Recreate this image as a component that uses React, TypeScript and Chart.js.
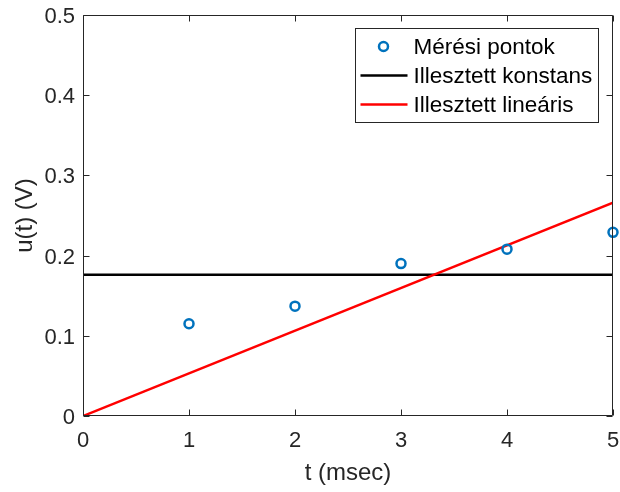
import React, { useEffect, useRef } from "react";
import { Chart, registerables } from "chart.js";

Chart.register(...registerables);

// ---- data ----
const tMeasured = [1, 2, 3, 4, 5];
const uMeasured = [0.115, 0.137, 0.19, 0.208, 0.229];
const constFitT = [0, 5];
const constFitU = [0.176, 0.176];
const linFitT = [0, 5];
const linFitU = [0, 0.266];
const seriesLabels = ["Mérési pontok", "Illesztett konstans", "Illesztett lineáris"];
const xTitle = "t (msec)";
const yTitle = "u(t) (V)";
const xLimits = [0, 5];
const yLimits = [0, 0.5];

const FONT = "'Liberation Sans', Arial, Helvetica, sans-serif";
const AXIS_COLOR = "#262626";
const BLUE = "#0072BD";

const boxPlugin = {
  id: "matlabBox",
  afterDraw(chart: any) {
    const { ctx, chartArea: ca } = chart;
    const xs = chart.scales.x;
    const ys = chart.scales.y;
    ctx.save();
    ctx.strokeStyle = AXIS_COLOR;
    ctx.lineWidth = 1;
    const L = Math.round(ca.left) + 0.5;
    const R = Math.round(ca.right) - 0.5;
    const T = Math.round(ca.top) + 0.5;
    const B = Math.round(ca.bottom) - 0.5;
    ctx.beginPath();
    ctx.rect(L, T, R - L, B - T);
    ctx.stroke();
    const tl = 6;
    ctx.beginPath();
    xs.ticks.forEach((t: any) => {
      const p = Math.round(xs.getPixelForValue(t.value)) + 0.5;
      ctx.moveTo(p, B);
      ctx.lineTo(p, B - tl);
      ctx.moveTo(p, T);
      ctx.lineTo(p, T + tl);
    });
    ys.ticks.forEach((t: any) => {
      const p = Math.round(ys.getPixelForValue(t.value)) + 0.5;
      ctx.moveTo(L, p);
      ctx.lineTo(L + tl, p);
      ctx.moveTo(R, p);
      ctx.lineTo(R - tl, p);
    });
    ctx.stroke();

    // legend
    const bw = 243;
    const bh = 94;
    const bx = Math.round(ca.right) - 15 - bw + 0.5;
    const by = Math.round(ca.top) + 13 + 0.5;
    ctx.fillStyle = "#ffffff";
    ctx.fillRect(bx, by, bw, bh);
    ctx.strokeStyle = AXIS_COLOR;
    ctx.strokeRect(bx, by, bw, bh);
    ctx.font = `22.5px ${FONT}`;
    ctx.textBaseline = "middle";
    ctx.textAlign = "left";
    chart.data.datasets.forEach((ds: any, i: number) => {
      const ry = by + 18 + i * 29;
      if (ds.showLine) {
        ctx.strokeStyle = ds.borderColor;
        ctx.lineWidth = ds.borderWidth;
        ctx.beginPath();
        ctx.moveTo(bx + 5, ry);
        ctx.lineTo(bx + 52, ry);
        ctx.stroke();
      } else {
        ctx.strokeStyle = ds.borderColor;
        ctx.lineWidth = ds.borderWidth;
        ctx.beginPath();
        ctx.arc(bx + 28, ry, ds.pointRadius, 0, Math.PI * 2);
        ctx.stroke();
      }
      ctx.fillStyle = "#000000";
      ctx.fillText(ds.label, bx + 58, ry + 1);
    });
    ctx.restore();
  },
};

export default function App() {
  const ref = useRef<HTMLCanvasElement | null>(null);
  useEffect(() => {
    if (!ref.current) return;
    const chart = new Chart(ref.current, {
      type: "scatter",
      data: {
        datasets: [
          {
            label: seriesLabels[0],
            data: tMeasured.map((t, i) => ({ x: t, y: uMeasured[i] })),
            showLine: false,
            borderColor: BLUE,
            backgroundColor: "rgba(0,0,0,0)",
            borderWidth: 2.5,
            pointRadius: 4.5,
            pointHoverRadius: 4.5,
            clip: false as any,
            order: 0,
          },
          {
            label: seriesLabels[1],
            data: constFitT.map((t, i) => ({ x: t, y: constFitU[i] })),
            showLine: true,
            borderColor: "#000000",
            backgroundColor: "#000000",
            borderWidth: 2.5,
            pointRadius: 0,
            order: 2,
          },
          {
            label: seriesLabels[2],
            data: linFitT.map((t, i) => ({ x: t, y: linFitU[i] })),
            showLine: true,
            borderColor: "#ff0000",
            backgroundColor: "#ff0000",
            borderWidth: 2.5,
            pointRadius: 0,
            order: 1,
          },
        ],
      },
      options: {
        animation: false,
        responsive: false,
        devicePixelRatio: 1,
        layout: { padding: { top: 15, right: 7, left: 0, bottom: 0 } },
        plugins: { legend: { display: false }, tooltip: { enabled: false } },
        events: [],
        scales: {
          x: {
            type: "linear",
            min: xLimits[0],
            max: xLimits[1],
            grid: { drawOnChartArea: false, drawTicks: false },
            border: { display: false },
            ticks: {
              stepSize: 1,
              padding: 12,
              color: AXIS_COLOR,
              font: { family: FONT, size: 22 },
              maxRotation: 0,
              callback: (v: any) => String(v),
            },
            title: {
              display: true,
              text: xTitle,
              color: AXIS_COLOR,
              font: { family: FONT, size: 24 },
              padding: { top: 0, bottom: 4 },
            },
            afterFit: (s: any) => {
              s.height = 76;
              s.paddingLeft = 0;
              s.paddingRight = 0;
            },
          },
          y: {
            type: "linear",
            min: yLimits[0],
            max: yLimits[1],
            grid: { drawOnChartArea: false, drawTicks: false },
            border: { display: false },
            ticks: {
              stepSize: 0.1,
              padding: 8,
              labelOffset: 2,
              color: AXIS_COLOR,
              font: { family: FONT, size: 22 },
              callback: (v: any) => String(Number(Number(v).toFixed(1))),
            },
            title: {
              display: true,
              text: yTitle,
              color: AXIS_COLOR,
              font: { family: FONT, size: 24 },
              padding: { top: 11, bottom: 0 },
            },
            afterFit: (s: any) => {
              s.width = 83;
              s.paddingTop = 0;
              s.paddingBottom = 0;
            },
          },
        },
      },
      plugins: [boxPlugin],
    });
    return () => chart.destroy();
  }, []);
  return (
    <div style={{ position: "fixed", left: 0, top: 0, width: 620, height: 492, background: "#fff" }}>
      <canvas ref={ref} width={620} height={492} style={{ display: "block" }} />
    </div>
  );
}
